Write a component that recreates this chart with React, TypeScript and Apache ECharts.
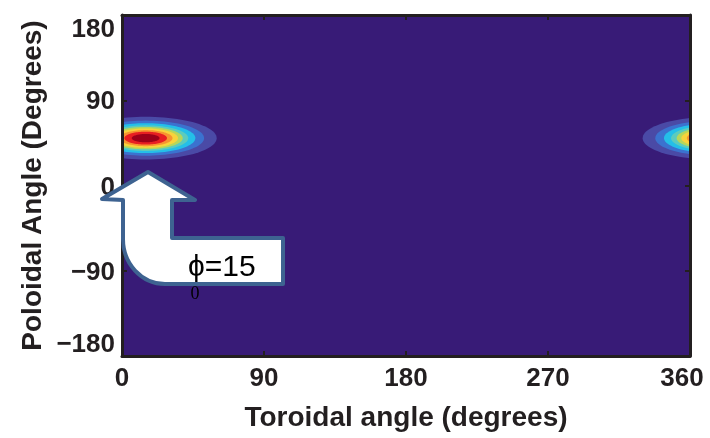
import React, { useEffect, useRef } from 'react';
import * as echarts from 'echarts';

// Axis ticks
const xTicks = [0, 90, 180, 270, 360];
const yTicks = [-180, -90, 0, 90, 180];

// Contour blob: centre and contour-level ellipse half-sizes, in degrees
const blobCentersX = [15, 375]; // 375 = 15 + 360 (periodic copy visible at right edge)
const blobCenterY = 50;
const levelHalfWidth = [45, 37, 31.5, 27, 23.5, 20.5, 17, 13.5, 8.8];
const levelHalfHeight = [22.5, 18.5, 15.8, 13.5, 11.8, 10.3, 8.5, 6.8, 4.4];
const levelColors = ['#4a4aa6', '#3b72cf', '#24bfe8', '#5ccbbd', '#b5d65c', '#f8d33b', '#f79430', '#e81f22', '#9d0019'];
const backgroundColor = '#381b77';

const annotationMain = 'ϕ=15';
const annotationSub = '0';

const TEXT = '#231f20';
const FONT = 'Liberation Sans, Arial, sans-serif';

const arrowPath =
  'M 148 172 L 195 200 L 172 200 L 172 238 L 283 238 L 283 284 L 165 284 A 42 45 0 0 1 123 239 L 123 200 L 102 199 Z';

let registered = false;

export default function App() {
  const ref = useRef<HTMLDivElement>(null);
  useEffect(() => {
    if (!ref.current) return;
    if (!registered) {
      echarts.graphic.registerShape('arrowShape', echarts.graphic.extendPath(arrowPath, {}));
      registered = true;
    }
    const chart = echarts.init(ref.current, null, { renderer: 'svg' });

    const data: number[][] = [];
    blobCentersX.forEach((cx) => {
      levelHalfWidth.forEach((hw, i) => {
        data.push([cx, blobCenterY, hw, levelHalfHeight[i], i]);
      });
    });

    const axisLine = { show: true, onZero: false, lineStyle: { color: TEXT, width: 3 } };
    const axisTick = { show: true, inside: true, length: 5, lineStyle: { color: TEXT, width: 2 } };
    const labelStyle = { color: TEXT, fontSize: 26, fontWeight: 'bold', fontFamily: FONT };

    chart.setOption({
      animation: false,
      grid: {
        left: 122,
        right: 20,
        top: 15,
        bottom: 82,
        show: true,
        backgroundColor,
        borderWidth: 0,
      },
      xAxis: [
        {
          type: 'value',
          position: 'bottom',
          min: 0,
          max: 360,
          interval: 90,
          z: 10,
          axisLine,
          axisTick,
          splitLine: { show: false },
          axisLabel: {
            ...labelStyle,
            margin: 8,
            formatter: (v: number) =>
              xTicks.includes(v) ? (v === 360 ? '{r|' + v + '}' : String(v)) : '',
            rich: {
              r: { ...labelStyle, padding: [0, 16, 0, 0] },
            },
          },
          name: 'Toroidal angle (degrees)',
          nameLocation: 'middle',
          nameGap: 46,
          nameTextStyle: { color: TEXT, fontSize: 28, fontWeight: 'bold', fontFamily: FONT },
        },
        {
          type: 'value',
          position: 'top',
          min: 0,
          max: 360,
          interval: 90,
          z: 10,
          axisLine,
          axisTick,
          splitLine: { show: false },
          axisLabel: { show: false },
        },
      ],
      yAxis: [
        {
          type: 'value',
          position: 'left',
          min: -180,
          max: 180,
          interval: 90,
          z: 10,
          axisLine,
          axisTick,
          splitLine: { show: false },
          axisLabel: {
            ...labelStyle,
            margin: 7,
            verticalAlignMaxLabel: 'top',
            verticalAlignMinLabel: 'bottom',
            formatter: (v: number) => (yTicks.includes(v) ? (v < 0 ? '\u2212' + Math.abs(v) : String(v)) : ''),
          },
          name: 'Poloidal Angle (Degrees)',
          nameLocation: 'middle',
          nameRotate: 90,
          nameGap: 76,
          nameTextStyle: { color: TEXT, fontSize: 28, fontWeight: 'bold', fontFamily: FONT },
        },
        {
          type: 'value',
          position: 'right',
          min: -180,
          max: 180,
          interval: 90,
          z: 10,
          axisLine,
          axisTick,
          splitLine: { show: false },
          axisLabel: { show: false },
        },
      ],
      series: [
        {
          type: 'custom',
          coordinateSystem: 'cartesian2d',
          xAxisIndex: 0,
          yAxisIndex: 0,
          clip: true,
          data,
          renderItem: (params: any, api: any) => {
            const cx = api.value(0);
            const cy = api.value(1);
            const hw = api.value(2);
            const hh = api.value(3);
            const li = api.value(4);
            const pts: number[][] = [];
            const n = 96;
            for (let k = 0; k < n; k++) {
              const t = (k / n) * Math.PI * 2;
              pts.push(api.coord([cx + hw * Math.cos(t), cy + hh * Math.sin(t)]));
            }
            return {
              type: 'polygon',
              shape: { points: pts },
              style: { fill: levelColors[li], stroke: null },
            };
          },
        },
      ],
      graphic: [
        {
          type: 'arrowShape',
          x: 0,
          y: 0,
          z: 100,
          style: { fill: '#ffffff', stroke: '#3e6391', lineWidth: 4, lineJoin: 'round' },
        },
        {
          type: 'text',
          x: 188,
          y: 265,
          z: 101,
          style: {
            text: annotationMain,
            fill: '#000',
            fontSize: 30,
            fontFamily: FONT,
            verticalAlign: 'middle',
          },
        },
        {
          type: 'text',
          x: 195,
          y: 293,
          z: 101,
          style: {
            text: annotationSub,
            fill: '#000',
            fontSize: 18,
            fontFamily: 'Liberation Serif, serif',
            align: 'center',
            verticalAlign: 'middle',
          },
        },
      ],
    });
    return () => chart.dispose();
  }, []);
  return <div ref={ref} style={{ position: 'fixed', left: 0, top: 0, width: 710, height: 438 }} />;
}
